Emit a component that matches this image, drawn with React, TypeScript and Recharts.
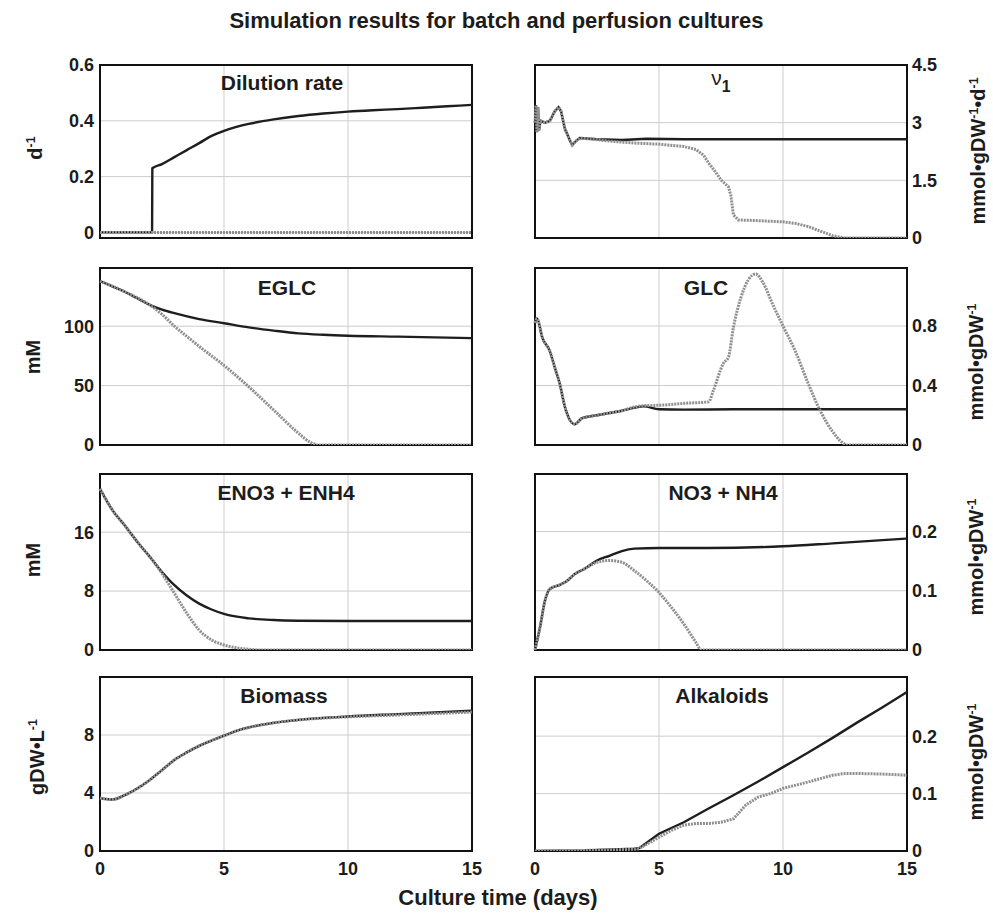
import React from 'react';
import { LineChart, Line, XAxis, YAxis, CartesianGrid, ReferenceArea } from 'recharts';

type Pair = [number, number];

// days on the x axis
const dayTicks = [0, 5, 10, 15];

// Dilution rate (d-1)
const dilutionPerfusion: Pair[] = [
    [0, 0], [2.1, 0], [2.11, 0.23], [2.5, 0.245], [3, 0.27], [3.5, 0.295], [4, 0.32], [4.5, 0.346],
    [5, 0.364], [5.5, 0.378], [6, 0.389], [7, 0.405], [8, 0.417], [9, 0.426], [10, 0.433], [11, 0.438],
    [12, 0.442], [13, 0.447], [14, 0.452], [15, 0.457],
];
const dilutionBatch: Pair[] = [[0, 0], [15, 0]];

// v1 (mmol gDW-1 d-1)
const v1Perfusion: Pair[] = [
    [0, 3.0], [0.04, 3.45], [0.08, 2.75], [0.12, 3.4], [0.16, 2.8], [0.22, 3.05], [0.4, 3.0], [0.6, 3.05],
    [0.8, 3.3], [0.95, 3.4], [1.05, 3.3], [1.2, 2.85], [1.4, 2.55], [1.5, 2.42], [1.65, 2.52], [1.8, 2.6],
    [2.5, 2.57], [3.5, 2.55], [4.5, 2.58], [6, 2.57], [15, 2.57],
];
const v1Batch: Pair[] = [
    [0, 3.0], [0.04, 3.45], [0.08, 2.75], [0.12, 3.4], [0.16, 2.8], [0.22, 3.05], [0.4, 3.0], [0.6, 3.05],
    [0.8, 3.3], [0.95, 3.4], [1.05, 3.3], [1.2, 2.85], [1.4, 2.55], [1.5, 2.42], [1.65, 2.52], [1.8, 2.6],
    [2.5, 2.56], [3, 2.52], [4, 2.47], [5, 2.44], [6, 2.38], [6.5, 2.3], [6.8, 2.15], [7, 1.95], [7.3, 1.7],
    [7.5, 1.51], [7.8, 1.33], [7.9, 1.1], [8.0, 0.6], [8.2, 0.47], [9, 0.45], [10, 0.42], [10.5, 0.38],
    [11, 0.3], [11.5, 0.18], [12, 0.06], [12.5, 0], [15, 0],
];

// EGLC (mM)
const eglcPerfusion: Pair[] = [
    [0, 138], [0.5, 133.5], [1, 129], [1.5, 123.5], [2, 118], [2.5, 114], [3, 111], [4, 106], [5, 102.5],
    [6, 99], [7, 96.3], [8, 94], [9, 92.8], [10, 92], [12, 91.2], [15, 90],
];
const eglcBatch: Pair[] = [
    [0, 138], [1, 129], [2, 118], [2.5, 110], [3, 100], [3.5, 91.5], [4, 83], [5, 67], [6, 49], [7, 29.5],
    [8, 10], [8.5, 2], [8.8, 0], [15, 0],
];

// GLC (mmol gDW-1)
const glcPerfusion: Pair[] = [
    [0, 0.82], [0.08, 0.85], [0.3, 0.72], [0.6, 0.63], [0.8, 0.52], [1.0, 0.41], [1.2, 0.26], [1.4, 0.17],
    [1.6, 0.14], [1.9, 0.18], [2.5, 0.2], [3, 0.215], [3.5, 0.23], [4, 0.25], [4.4, 0.26], [5, 0.24],
    [6, 0.238], [8, 0.24], [10, 0.24], [15, 0.24],
];
const glcBatch: Pair[] = [
    [0, 0.82], [0.08, 0.85], [0.3, 0.72], [0.6, 0.63], [0.8, 0.52], [1.0, 0.41], [1.2, 0.26], [1.4, 0.17],
    [1.6, 0.14], [1.9, 0.18], [2.5, 0.2], [3, 0.215], [3.5, 0.23], [4, 0.255], [4.5, 0.265], [5, 0.267],
    [6, 0.28], [7, 0.29], [7.2, 0.37], [7.6, 0.55], [7.8, 0.59], [8, 0.79], [8.3, 0.99], [8.6, 1.11],
    [8.9, 1.15], [9.2, 1.09], [9.6, 0.94], [10, 0.8], [10.5, 0.63], [11, 0.42], [11.5, 0.23], [12, 0.09],
    [12.3, 0.03], [12.6, 0], [15, 0],
];

// ENO3 + ENH4 (mM)
const enPerfusion: Pair[] = [
    [0, 21.9], [0.5, 19], [1, 16.9], [1.5, 14.7], [2, 12.7], [2.5, 10.6], [3, 8.8], [3.5, 7.4], [4, 6.3],
    [4.5, 5.5], [5, 4.9], [6, 4.3], [7, 4.07], [8, 3.98], [10, 3.93], [15, 3.93],
];
const enBatch: Pair[] = [
    [0, 21.9], [0.5, 19], [1, 16.9], [1.5, 14.7], [2, 12.7], [2.5, 10.4], [3, 7.7], [3.5, 5.0], [4, 2.7],
    [4.5, 1.36], [5, 0.68], [5.5, 0.3], [6, 0.1], [6.5, 0], [15, 0],
];

// NO3 + NH4 (mmol gDW-1)
const nPerfusion: Pair[] = [
    [0, 0], [0.2, 0.038], [0.4, 0.083], [0.6, 0.103], [1.0, 0.11], [1.3, 0.117], [1.6, 0.128], [2, 0.137],
    [2.5, 0.151], [3, 0.159], [3.5, 0.167], [4, 0.171], [5, 0.172], [7, 0.172], [10, 0.175], [12, 0.18],
    [15, 0.188],
];
const nBatch: Pair[] = [
    [0, 0], [0.2, 0.038], [0.4, 0.083], [0.6, 0.103], [1.0, 0.11], [1.3, 0.117], [1.6, 0.128], [2, 0.137],
    [2.5, 0.148], [3, 0.151], [3.5, 0.148], [4, 0.134], [4.5, 0.117], [5, 0.097], [5.5, 0.072], [6, 0.044],
    [6.5, 0.012], [6.7, 0], [15, 0],
];

// Biomass (gDW L-1)
const biomassPerfusion: Pair[] = [
    [0, 3.65], [0.5, 3.55], [1, 3.85], [1.5, 4.31], [2, 4.89], [2.5, 5.58], [3, 6.28], [3.5, 6.8], [4, 7.25],
    [4.5, 7.62], [5, 7.95], [5.5, 8.28], [6, 8.52], [7, 8.84], [8, 9.04], [10, 9.28], [12, 9.44], [15, 9.67],
];
const biomassBatch: Pair[] = [
    [0, 3.65], [0.5, 3.55], [1, 3.85], [1.5, 4.31], [2, 4.89], [2.5, 5.58], [3, 6.28], [3.5, 6.8], [4, 7.25],
    [4.5, 7.62], [5, 7.95], [5.5, 8.28], [6, 8.52], [7, 8.84], [8, 9.04], [10, 9.25], [12, 9.38], [15, 9.58],
];

// Alkaloids (mmol gDW-1)
const alkPerfusion: Pair[] = [
    [0, 0], [2, 0.001], [4, 0.004], [4.2, 0.005], [5, 0.03], [6, 0.05], [7, 0.074], [8, 0.097], [9, 0.121],
    [10, 0.146], [11, 0.171], [12, 0.197], [13, 0.224], [14, 0.25], [15, 0.277],
];
const alkBatch: Pair[] = [
    [0, 0], [2, 0.001], [4, 0.003], [4.2, 0.004], [5, 0.024], [5.5, 0.036], [6, 0.045], [6.5, 0.048],
    [7, 0.048], [7.5, 0.05], [8, 0.056], [8.5, 0.08], [9, 0.094], [9.5, 0.1], [10, 0.109], [11, 0.12],
    [12, 0.132], [12.5, 0.135], [13, 0.135], [14, 0.134], [15, 0.132],
];

const FONT = '"Liberation Sans", Arial, Helvetica, sans-serif';
const INK = '#1c1c1c';

// plot-area rows (pixel top/bottom of each frame)
const ROWS = [
    { top: 65, bottom: 238 },
    { top: 268, bottom: 445 },
    { top: 474, bottom: 650 },
    { top: 677, bottom: 851 },
];

interface PanelSpec {
    title: React.ReactNode;
    titleX: number;
    titleTop: number;
    row: number;
    side: 'left' | 'right';
    domain: [number, number];
    ticks: number[];
    curve: 'monotone' | 'linear';
    perfusion: Pair[];
    batch: Pair[];
}

const panels: PanelSpec[] = [
    { title: 'Dilution rate', titleX: 282, titleTop: 72, row: 0, side: 'left', domain: [-0.02, 0.6], ticks: [0, 0.2, 0.4, 0.6], curve: 'monotone', perfusion: dilutionPerfusion, batch: dilutionBatch },
    { title: <span style={{ fontWeight: 400 }}>ν<sub style={{ fontSize: '0.75em', fontWeight: 700, verticalAlign: '-0.45em' }}>1</sub></span>, titleX: 721, titleTop: 67, row: 0, side: 'right', domain: [0, 4.5], ticks: [0, 1.5, 3, 4.5], curve: 'linear', perfusion: v1Perfusion, batch: v1Batch },
    { title: 'EGLC', titleX: 287, titleTop: 277, row: 1, side: 'left', domain: [0, 149], ticks: [0, 50, 100], curve: 'monotone', perfusion: eglcPerfusion, batch: eglcBatch },
    { title: 'GLC', titleX: 706, titleTop: 277, row: 1, side: 'right', domain: [0, 1.19], ticks: [0, 0.4, 0.8], curve: 'monotone', perfusion: glcPerfusion, batch: glcBatch },
    { title: 'ENO3 + ENH4', titleX: 286, titleTop: 482, row: 2, side: 'left', domain: [0, 23.9], ticks: [0, 8, 16], curve: 'monotone', perfusion: enPerfusion, batch: enBatch },
    { title: 'NO3 + NH4', titleX: 723, titleTop: 482, row: 2, side: 'right', domain: [0, 0.297], ticks: [0, 0.1, 0.2], curve: 'monotone', perfusion: nPerfusion, batch: nBatch },
    { title: 'Biomass', titleX: 284, titleTop: 685, row: 3, side: 'left', domain: [0, 12], ticks: [0, 4, 8], curve: 'monotone', perfusion: biomassPerfusion, batch: biomassBatch },
    { title: 'Alkaloids', titleX: 722, titleTop: 685, row: 3, side: 'right', domain: [0, 0.303], ticks: [0, 0.1, 0.2], curve: 'linear', perfusion: alkPerfusion, batch: alkBatch },
];

const toPoints = (pairs: Pair[]) => pairs.map(([t, v]) => ({ t, v }));

const tickStyle = { fontSize: 18, fontWeight: 700, fill: INK, fontFamily: FONT };

const Panel: React.FC<{ p: PanelSpec }> = ({ p }) => {
    const row = ROWS[p.row];
    const isLeft = p.side === 'left';
    const last = p.row === 3;
    const width = isLeft ? 482 : 442;
    const bottomPad = last ? 40 : 14;
    const height = row.bottom - row.top + 10 + bottomPad;

    return (
        <div style={{ position: 'absolute', left: isLeft ? 0 : 525, top: row.top - 10 }}>
            <LineChart
                width={width}
                height={height}
                margin={{ top: 10, right: isLeft ? 10 : 0, bottom: last ? 10 : bottomPad, left: isLeft ? 0 : 10 }}
            >
                <CartesianGrid stroke="#cdcdcd" strokeWidth={1} />
                <XAxis
                    dataKey="t"
                    type="number"
                    domain={[0, 15]}
                    ticks={dayTicks}
                    interval={0}
                    hide={!last}
                    height={30}
                    axisLine={false}
                    tickLine={false}
                    tickSize={0}
                    tickMargin={11}
                    tick={tickStyle}
                />
                <YAxis
                    type="number"
                    orientation={p.side}
                    domain={p.domain}
                    ticks={p.ticks}
                    interval={0}
                    allowDataOverflow
                    width={isLeft ? 100 : 60}
                    axisLine={false}
                    tickLine={false}
                    tickSize={0}
                    tickMargin={isLeft ? 6 : 5}
                    tick={tickStyle}
                />
                <Line
                    data={toPoints(p.perfusion)}
                    dataKey="v"
                    type={p.curve}
                    stroke="#1e1e1e"
                    strokeWidth={2.4}
                    dot={false}
                    activeDot={false}
                    isAnimationActive={false}
                />
                <Line
                    data={toPoints(p.batch)}
                    dataKey="v"
                    type={p.curve}
                    stroke="#8f8f8f"
                    strokeWidth={3}
                    strokeDasharray="2 1"
                    dot={false}
                    activeDot={false}
                    isAnimationActive={false}
                />
                <ReferenceArea
                    x1={0}
                    x2={15}
                    y1={p.domain[0]}
                    y2={p.domain[1]}
                    fill="none"
                    fillOpacity={0}
                    stroke="#111"
                    strokeWidth={2}
                    ifOverflow="visible"
                />
            </LineChart>
        </div>
    );
};

const textBase: React.CSSProperties = {
    position: 'absolute',
    fontFamily: FONT,
    fontWeight: 700,
    color: INK,
    lineHeight: 1,
    whiteSpace: 'nowrap',
};

const supStyle: React.CSSProperties = { fontSize: '0.62em', verticalAlign: '0.55em' };

const AxisLabel: React.FC<{ x: number; y: number; children: React.ReactNode }> = ({ x, y, children }) => (
    <div
        style={{
            ...textBase,
            fontSize: 20,
            left: x,
            top: y,
            transform: 'translate(-50%, -50%) rotate(-90deg)',
        }}
    >
        {children}
    </div>
);

export default function App() {
    return (
        <div style={{ position: 'absolute', left: 0, top: 0, width: 993, height: 918, background: '#fff', overflow: 'hidden' }}>
            <div style={{ ...textBase, fontSize: 22, left: 0, width: 993, top: 10, textAlign: 'center' }}>
                Simulation results for batch and perfusion cultures
            </div>

            {panels.map((p, i) => (
                <Panel key={i} p={p} />
            ))}

            {panels.map((p, i) => (
                <div
                    key={'t' + i}
                    style={{ ...textBase, fontSize: 21, left: p.titleX, top: p.titleTop, transform: 'translateX(-50%)' }}
                >
                    {p.title}
                </div>
            ))}

            {/* left axis labels */}
            <AxisLabel x={35} y={148}>d<span style={supStyle}>-1</span></AxisLabel>
            <AxisLabel x={33} y={357}>mM</AxisLabel>
            <AxisLabel x={33} y={560}>mM</AxisLabel>
            <AxisLabel x={37} y={757}>gDW•L<span style={supStyle}>-1</span></AxisLabel>

            {/* right axis labels */}
            <AxisLabel x={978} y={151}>mmol•gDW<span style={supStyle}>-1</span>•d<span style={supStyle}>-1</span></AxisLabel>
            <AxisLabel x={976} y={362}>mmol•gDW<span style={supStyle}>-1</span></AxisLabel>
            <AxisLabel x={976} y={557}>mmol•gDW<span style={supStyle}>-1</span></AxisLabel>
            <AxisLabel x={976} y={762}>mmol•gDW<span style={supStyle}>-1</span></AxisLabel>

            <div style={{ ...textBase, fontSize: 22, left: 498, top: 887, transform: 'translateX(-50%)' }}>
                Culture time (days)
            </div>
        </div>
    );
}
